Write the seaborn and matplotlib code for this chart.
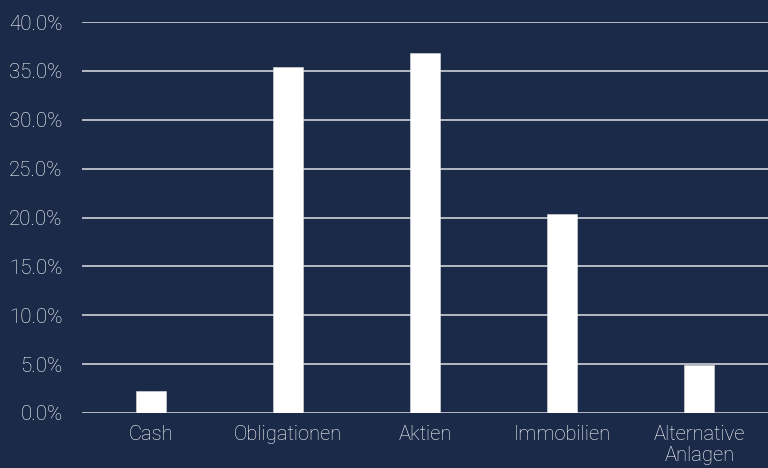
import matplotlib
matplotlib.use("Agg")
import matplotlib.pyplot as plt
import seaborn as sns
import pandas as pd
from matplotlib.ticker import FuncFormatter

categories = ["Cash", "Obligationen", "Aktien", "Immobilien", "Alternative\nAnlagen"]
values = [2.2, 35.4, 36.8, 20.4, 4.9]
yticks = [0, 5, 10, 15, 20, 25, 30, 35, 40]

BG = "#1b2a49"
TXT = "#ffffff"
GRID = "#cfd2d8"

sns.set_theme(style="white")
plt.rcParams["font.family"] = ["Roboto", "DejaVu Sans"]
plt.rcParams["font.weight"] = "light"

df = pd.DataFrame({"cat": categories, "val": values})

fig = plt.figure(figsize=(7.68, 4.68), dpi=100, facecolor=BG)
ax = fig.add_axes([82 / 768, (468 - 413) / 468, (768 - 82) / 768, (413 - 22) / 468])
ax.set_facecolor(BG)

sns.barplot(data=df, x="cat", y="val", color="white", width=0.22,
            saturation=1, ax=ax, zorder=3, edgecolor="#e0e0e0", linewidth=0.4)

ax.set_ylim(0, 40)
ax.set_xlim(-0.5, 4.5)
ax.set_yticks(yticks)
ax.yaxis.set_major_formatter(FuncFormatter(lambda v, p: f"{v:.1f}%"))
ax.grid(axis="y", color=GRID, linewidth=1.2, zorder=0)
ax.grid(axis="x", visible=False)
ax.set_axisbelow(True)
for s in ax.spines.values():
    s.set_visible(False)
ax.set_xlabel("")
ax.set_ylabel("")
ax.tick_params(axis="y", length=0, pad=14, labelsize=14.8, labelcolor=TXT)
ax.tick_params(axis="x", length=0, pad=9, labelsize=14.5, labelcolor=TXT)
for lbl in ax.get_xticklabels() + ax.get_yticklabels():
    lbl.set_fontweight("light")
for lbl in ax.get_xticklabels():
    lbl.set_linespacing(1.1)
    lbl.set_horizontalalignment("center")

fig.savefig("out.png", dpi=100, facecolor=BG)
